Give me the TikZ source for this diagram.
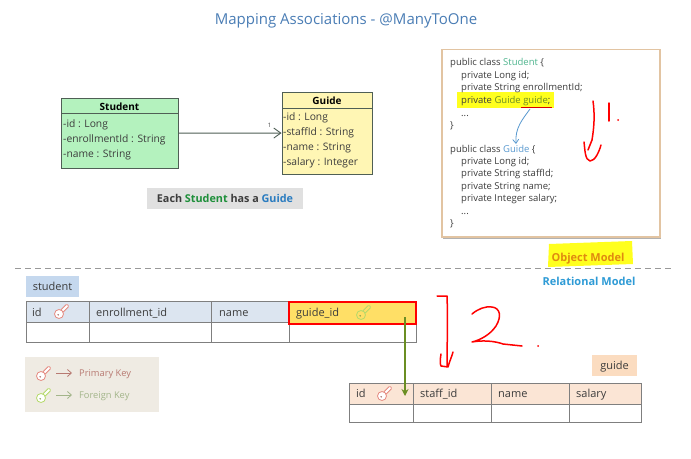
\documentclass[tikz,border=0pt]{standalone}
\usepackage{fontspec}
\setmainfont{Open Sans}
\usetikzlibrary{arrows.meta,calc}
\definecolor{titleblue}{HTML}{4A7DB5}
\definecolor{umlgreen}{HTML}{B4F2BE}
\definecolor{umlyellow}{HTML}{FFF6B4}
\definecolor{umlline}{HTML}{4F5F55}
\definecolor{txt}{HTML}{3C3C3C}
\definecolor{stgreen}{HTML}{1E8F3A}
\definecolor{gdblue}{HTML}{2A7CC0}
\definecolor{codegreen}{HTML}{4FB58E}
\definecolor{codeblue}{HTML}{5A9AD0}
\definecolor{hlyellow}{HTML}{FFFF1E}
\definecolor{boxedge}{HTML}{E2C4A2}
\definecolor{bluefill}{HTML}{DCE5F0}
\definecolor{bluelabel}{HTML}{C5D8EE}
\definecolor{peachfill}{HTML}{FBE5D5}
\definecolor{peachlabel}{HTML}{FAD3B0}
\definecolor{legendfill}{HTML}{EFEBE3}
\definecolor{gridline}{HTML}{7F7F7F}
\definecolor{fkyellow}{HTML}{FFDF66}
\definecolor{fkgreen}{HTML}{6B8E23}
\definecolor{pkred}{HTML}{E58A80}
\definecolor{pktext}{HTML}{B87A72}
\definecolor{fkkey}{HTML}{B5D96A}
\definecolor{fktext}{HTML}{A3B58A}
\definecolor{omtext}{HTML}{E08A10}
\definecolor{rmtext}{HTML}{2E9BD6}
\tikzset{
  x=1pt,y=-1pt,
  umlbox/.style={draw=umlline,line width=0.9pt,inner sep=0pt,anchor=center},
  umltext/.style={anchor=west,inner sep=0pt,text height=8.5pt,text depth=1.5pt,font=\fontsize{10.3}{12}\selectfont,text=txt},
  umlhead/.style={anchor=center,inner sep=0pt,text height=8.5pt,text depth=1.5pt,font=\fontsize{10}{12}\selectfont\bfseries,text=black},
  codeline/.style={anchor=west,inner sep=0pt,text height=8pt,text depth=1.5pt,font=\fontsize{9.5}{11}\selectfont,text=txt},
  tabcell/.style={draw=gridline,line width=1pt,inner sep=0pt},
  celltext/.style={anchor=west,inner sep=0pt,text height=8.5pt,text depth=1.5pt,font=\fontsize{11}{13}\selectfont,text=txt},
  redpen/.style={draw=red,line width=1.5pt,line cap=round,line join=round},
  tag/.style={inner sep=0pt,text height=8.5pt,text depth=1.5pt,font=\fontsize{11}{13}\selectfont,text=txt}
}
% name, x1, y1, x2, y2, fill
\newcommand\tabbox[6]{%
  \pgfmathsetmacro\cxx{(#2+#4)/2}\pgfmathsetmacro\cyy{(#3+#5)/2}%
  \pgfmathsetmacro\cww{#4-#2}\pgfmathsetmacro\chh{#5-#3}%
  \node[tabcell,fill=#6,minimum width=\cww pt,minimum height=\chh pt] (#1) at (\cxx,\cyy) {};}
% head x, head y, colour, head fill
\newcommand\keyicon[4]{%
  \begin{scope}[shift={(#1,#2)}]
    \draw[#3,line width=0.8pt,fill=#4,rounded corners=1pt]
      (3.6,-1.4) -- (10,-7.8) -- (7.8,-10) -- (1.4,-3.6) -- cycle;
    \draw[#3,line width=0.8pt,fill=#4] (0,0) circle (4.5pt);
    \fill[#3!70!black] (-0.8,0.8) circle (0.8pt);
  \end{scope}}
\begin{document}
\begin{tikzpicture}
\useasboundingbox (0,0) rectangle (691,458);
\fill[white] (0,0) rectangle (691,458);
\node[font=\fontsize{15}{18}\selectfont,text=titleblue,inner sep=0pt] (title) at (346,20.5) {Mapping Associations - @ManyToOne};

% UML
\node[umlbox,fill=umlgreen,minimum width=117pt,minimum height=69.5pt] (stu) at (119.5,133.25) {};
\draw[umlline,line width=0.8pt] (61,113) -- (178,113);
\node[umlhead] (stuh) at (119.5,107) {Student};
\node[umltext] (stua) at (63,124) {-id : Long};
\node[umltext] (stub) at (63,139) {-enrollmentId : String};
\node[umltext] (stuc) at (63,154) {-name : String};
\node[umlbox,fill=umlyellow,minimum width=90pt,minimum height=82pt] (gui) at (327,133) {};
\draw[umlline,line width=0.8pt] (282,108) -- (372,108);
\node[umlhead] (guih) at (327,100.5) {Guide};
\node[umltext] (guia) at (283,117) {-id : Long};
\node[umltext] (guib) at (283,132) {-staffId : String};
\node[umltext] (guic) at (283,147) {-name : String};
\node[umltext] (guid) at (283,162) {-salary : Integer};
\draw[umlline,line width=0.9pt,-{Straight Barb[length=7pt,width=10pt]}] (stu) -- (gui);
\node[inner sep=0pt,font=\fontsize{6}{7}\selectfont,text=txt] (one) at (269.5,125) {1};
\node[fill=black!12,minimum width=156pt,minimum height=21pt,inner sep=0pt,font=\fontsize{10.8}{13}\selectfont\bfseries] (each) at (225,198.5)
  {\textcolor{txt}{Each} \textcolor{stgreen}{Student} \textcolor{txt}{has a} \textcolor{gdblue}{Guide}};

% Code box
\fill[black!30] (443,51) rectangle (661,238.5);
\node[draw=boxedge,line width=1.4pt,fill=white,minimum width=218pt,minimum height=187.5pt,inner sep=0pt] (code) at (551,143.25) {};
\fill[hlyellow] (457,92) rectangle (554,108);
\node[codeline] (c1) at (450,62) {public class \textcolor{codegreen}{Student} \{};
\node[codeline] (c2) at (461,75) {private Long id;};
\node[codeline] (c3) at (461,87) {private String enrollmentId;};
\node[codeline] (c4) at (461,100) {private \textcolor{fkgreen}{Guide} \textcolor{fkgreen}{guide};};
\node[codeline] (c5) at (461,113) {...};
\node[codeline] (c6) at (450,125) {\}};
\node[codeline] (c7) at (450,149) {public class \textcolor{codeblue}{Guide} \{};
\node[codeline] (c8) at (461,161) {private Long id;};
\node[codeline] (c9) at (461,173) {private String staffId;};
\node[codeline] (c10) at (461,186) {private String name;};
\node[codeline] (c11) at (461,198) {private Integer salary;};
\node[codeline] (c12) at (461,211) {...};
\node[codeline] (c13) at (450,223) {\}};
\draw[red!85!black,line width=1pt] (521,107) -- (552,107);
\draw[codeblue,line width=0.8pt,-{Straight Barb[length=4pt,width=6pt]}] (530,109) .. controls (522,120) and (515,128) .. (516,144);

% hand-drawn 1
\draw[redpen] (593,101) .. controls (595,115) and (594,128) .. (592,140);
\draw[redpen] (584,142) .. controls (585,150) and (585,160) .. (590,161) .. controls (595,161) and (599,152) .. (601,145);
\draw[redpen] (592,140) -- (588,150);
\draw[redpen] (609,103) -- (609,121);
\fill[red] (618,120) circle (1pt);

% Model labels
\fill[hlyellow] (549,244) -- (632,241) -- (633,264) -- (548,267) -- cycle;
\node[inner sep=0pt,font=\fontsize{11}{13}\selectfont\bfseries,text=omtext] (om) at (588,259) {Object Model};
\draw[black!40,line width=1pt,dash pattern=on 6pt off 4pt] (15,268) -- (672,268);
\node[inner sep=0pt,font=\fontsize{11}{13}\selectfont\bfseries,text=rmtext] (rm) at (589,281) {Relational Model};

% student table
\node[tag,fill=bluelabel,minimum width=53pt,minimum height=21pt] (stl) at (52.5,286.5) {student};
\tabbox{a1}{26}{301}{89}{322}{bluefill}
\tabbox{a2}{89}{301}{211}{322}{bluefill}
\tabbox{a3}{211}{301}{289}{322}{bluefill}
\tabbox{b1}{26}{322}{89}{342}{white}
\tabbox{b2}{89}{322}{211}{342}{white}
\tabbox{b3}{211}{322}{289}{342}{white}
\tabbox{b4}{289}{322}{416}{342}{white}
\node[draw=red,line width=2.2pt,fill=fkyellow,minimum width=127pt,minimum height=22pt,inner sep=0pt] (gid) at (352.5,313) {};
\node[celltext] (t1) at (32,312.5) {id};
\node[celltext] (t2) at (96,312.5) {enrollment\_id};
\node[celltext] (t3) at (219,312.5) {name};
\node[celltext] (t4) at (296,312.5) {guide\_id};
\keyicon{59}{314}{pkred}{white}
\keyicon{361}{315}{fkkey}{fkyellow}

% legend
\node[fill=legendfill,minimum width=134pt,minimum height=55pt,inner sep=0pt] (leg) at (92,384.5) {};
\keyicon{41}{376}{pkred}{white}
\keyicon{41}{398}{fkkey}{white}
\draw[pktext,line width=0.8pt,-{Straight Barb[length=4pt,width=7pt]}] (56,373) -- (72,373);
\draw[fktext,line width=0.8pt,-{Straight Barb[length=4pt,width=7pt]}] (56,395) -- (72,395);
\node[anchor=west,inner sep=0pt,text height=8pt,text depth=1.5pt,font=\fontsize{9.3}{11}\selectfont,text=pktext] (pk) at (79,373) {Primary Key};
\node[anchor=west,inner sep=0pt,text height=8pt,text depth=1.5pt,font=\fontsize{9.3}{11}\selectfont,text=fktext] (fk) at (79,395) {Foreign Key};

% guide table
\node[tag,fill=peachlabel!80!white,minimum width=45pt,minimum height=21pt] (gul) at (614.5,365.5) {guide};
\tabbox{g1}{349}{383}{413}{404}{peachfill}
\tabbox{g2}{413}{383}{491}{404}{peachfill}
\tabbox{g3}{491}{383}{569}{404}{peachfill}
\tabbox{g4}{569}{383}{641}{404}{peachfill}
\tabbox{h1}{349}{404}{413}{422}{white}
\tabbox{h2}{413}{404}{491}{422}{white}
\tabbox{h3}{491}{404}{569}{422}{white}
\tabbox{h4}{569}{404}{641}{422}{white}
\node[celltext] (u1) at (356,393.5) {id};
\node[celltext] (u2) at (420,393.5) {staff\_id};
\node[celltext] (u3) at (498,393.5) {name};
\node[celltext] (u4) at (576,393.5) {salary};
\keyicon{382}{396}{pkred}{white}

\coordinate (fkstart) at (405,317);
\coordinate (fkend) at (405,396);
\draw[fkgreen,line width=1.2pt,-{Stealth[length=7pt,width=7pt]}] (fkstart) -- (fkend);

% hand-drawn 2
\draw[redpen] (437,296) -- (447,296) .. controls (448,320) and (447,345) .. (447,366);
\draw[redpen] (441,354) .. controls (440,360) and (440,364) .. (441,366) -- (448,367) .. controls (450,360) and (452,356) .. (453,352);
\draw[redpen] (472,314) .. controls (478,309) and (485,306) .. (492,307) .. controls (500,308) and (502,316) .. (496,326) .. controls (490,335) and (480,340) .. (472,342) .. controls (482,340) and (495,341) .. (503,344) -- (522,346);
\fill[red] (538,346) circle (1pt);
\end{tikzpicture}
\end{document}
